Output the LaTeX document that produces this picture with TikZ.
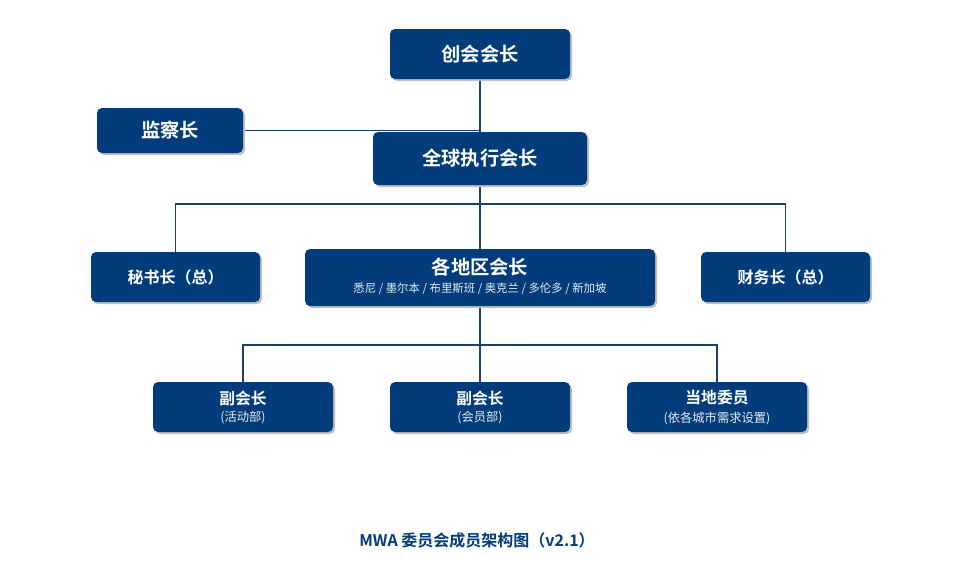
\documentclass[tikz,border=0pt]{standalone}
\usepackage{fontspec}
\usetikzlibrary{shadows,backgrounds}
\setmainfont{Noto Sans CJK SC}
\newfontfamily\cjkb{Noto Sans CJK SC Bold}
\definecolor{boxblue}{HTML}{023C7A}
\definecolor{lineblue}{HTML}{1A3F75}
\definecolor{subwhite}{HTML}{E6ECF4}
\begin{document}
\begin{tikzpicture}[x=1pt,y=-1pt,
  box/.style={fill=boxblue, rounded corners=5pt, inner sep=0pt,
    text=white, align=center,
    drop shadow={shadow xshift=2pt, shadow yshift=-2pt, fill=black!25, opacity=1}},
  conn/.style={draw=lineblue, line width=1.3pt},
  big/.style={font=\cjkb\fontsize{19.3}{23}\selectfont},
  mid/.style={font=\cjkb\fontsize{16}{20}\selectfont},
  sml/.style={font=\cjkb\fontsize{15.8}{19}\selectfont},
  sub/.style={text=subwhite, font=\fontsize{11.4}{13}\selectfont},
  vsub/.style={text=subwhite, font=\fontsize{12.3}{14}\selectfont}]
\useasboundingbox (0,0) rectangle (960,565);
% nodes
\node[box, big, minimum width=180pt, minimum height=50pt] (founder) at (480,54) {创会会长};
\node[box, big, minimum width=146pt, minimum height=45pt] (super) at (170,130.5) {监察长};
\node[box, big, minimum width=214pt, minimum height=53pt] (ceo) at (480,158.5) {全球执行会长};
\node[box, mid, minimum width=169pt, minimum height=50pt] (sec) at (175.5,277) {秘书长（总）};
\node[box, minimum width=350pt, minimum height=57pt] (reg) at (480,277.5) {};
\node[text=white, big] (regt) at (480,267) {各地区会长};
\node[sub] (regs) at (480,288.5) {悉尼 / 墨尔本 / 布里斯班 / 奥克兰 / 多伦多 / 新加坡};
\node[box, mid, minimum width=169pt, minimum height=50pt] (fin) at (785.5,277) {财务长（总）};
\node[box, minimum width=180pt, minimum height=50pt] (vp1) at (243,407) {};
\node[text=white, sml] (vp1t) at (243,398) {副会长};
\node[vsub] (vp1s) at (243,418) {(活动部)};
\node[box, minimum width=180pt, minimum height=50pt] (vp2) at (480,407) {};
\node[text=white, sml] (vp2t) at (480,398) {副会长};
\node[vsub] (vp2s) at (480,418) {(会员部)};
\node[box, minimum width=180pt, minimum height=50pt] (loc) at (717,407) {};
\node[text=white, sml] (loct) at (717,398) {当地委员};
\node[vsub] (locs) at (717,418) {(依各城市需求设置)};
\node[text=boxblue, font=\cjkb\fontsize{16}{19}\selectfont] (title) at (477,540) {MWA 委员会成员架构图（v2.1）};
% connectors
\coordinate (j1) at (480,130.5);
\coordinate (b1) at (480,204);
\coordinate (b2) at (480,345);
\begin{scope}[on background layer]
\draw[conn] (founder.south) -- (ceo.north);
\draw[conn] (super.east) -- (j1);
\draw[conn] (ceo.south) -- (reg.north);
\draw[conn] (sec.north) |- (b1) -| (fin.north);
\draw[conn] (reg.south) -- (vp2.north);
\draw[conn] (vp1.north) |- (b2) -| (loc.north);
\end{scope}
\end{tikzpicture}
\end{document}
